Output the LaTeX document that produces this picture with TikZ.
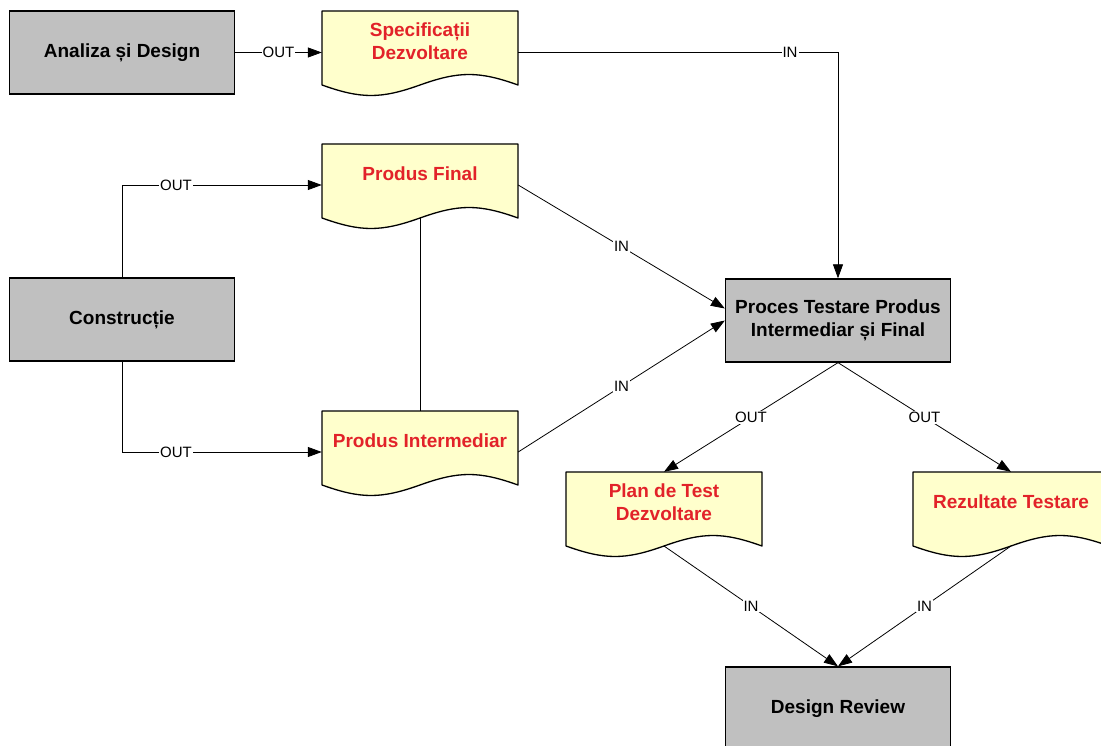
\documentclass[tikz,border=0pt]{standalone}
\usepackage{fontspec}
\setmainfont{Liberation Sans}
\usetikzlibrary{arrows.meta}
\definecolor{boxgray}{RGB}{192,192,192}
\definecolor{docyellow}{RGB}{255,255,204}
\definecolor{docred}{RGB}{226,34,41}
\tikzset{
  procbox/.style={draw=black, line width=1.3pt, fill=boxgray, minimum width=225pt, minimum height=83pt,
    inner sep=2pt, align=center, font=\fontsize{19}{23}\selectfont\bfseries},
  docarea/.style={draw=none, minimum width=196pt, minimum height=74pt, inner sep=0pt},
  doctext/.style={text=docred, align=center, inner sep=1pt, font=\fontsize{19}{23}\selectfont\bfseries},
  docline/.style={draw=black, line width=1.3pt, fill=docyellow, line join=round},
  conn/.style={draw=black, line width=0.8pt, -{Triangle[length=14pt,width=10pt]}},
  plainconn/.style={draw=black, line width=0.8pt},
  lbl/.style={fill=white, inner sep=1pt, font=\fontsize{15}{17}\selectfont},
}
% #1 left x, #2 top y, #3 name, #4 text
\newcommand\mydoc[4]{%
  \begin{scope}[shift={(#1,#2)}]
    \draw[docline] (0,0) -- (196,0) -- (196,74)
      .. controls (157,60) and (137,60) .. (98,74)
      .. controls (59,88) and (39,88) .. (0,74) -- cycle;
    \coordinate (#3-wave) at (98,74);
    \node[docarea] (#3) at (98,37) {};
    \node[doctext] (#3-text) at ([yshift=7pt]#3.center) {#4};
  \end{scope}}
\begin{document}
\begin{tikzpicture}[x=1pt,y=-1pt]
\useasboundingbox (0,0) rectangle (1101,746);
\clip (0,0) rectangle (1101,746);
\fill[white] (0,0) rectangle (1101,746);

% process boxes
\node[procbox] (analiza) at (122,52.5) {Analiza și Design};
\node[procbox] (constr) at (122,319.5) {Construcție};
\node[procbox] (proces) at (838,320.5) {Proces Testare Produs\\Intermediar și Final};
\node[procbox] (review) at (838,708.5) {Design Review};

% documents
\mydoc{322}{11}{spec}{Specificații\\Dezvoltare}
\mydoc{322}{144}{final}{Produs Final}
\mydoc{322}{411}{inter}{Produs Intermediar}
\mydoc{566}{472}{plan}{Plan de Test\\Dezvoltare}
\mydoc{913}{472}{rez}{Rezultate Testare}

% connectors
\draw[conn] (analiza.east) -- node[lbl]{OUT} (spec.west |- analiza.east);
\draw[conn] ([yshift=-4pt]spec.east) -| node[lbl, pos=0.425]{IN} (proces.north);
\draw[conn] (constr.north) |- node[lbl, pos=0.635]{OUT} ([yshift=-4pt]final.west);
\draw[conn] (constr.south) |- node[lbl, pos=0.635]{OUT} ([yshift=-4pt]inter.west);
\draw[plainconn] (final-wave) -- (final-wave |- inter.north);
\draw[conn] ([yshift=-4pt]final.east) -- node[lbl]{IN} ([yshift=12pt]proces.west);
\draw[conn] ([yshift=-4pt]inter.east) -- node[lbl]{IN} (proces.west);
\draw[conn] (proces.south) -- node[lbl]{OUT} (plan.north);
\draw[conn] (proces.south) -- node[lbl]{OUT} (rez.north);
\draw[conn] (plan-wave) -- node[lbl]{IN} (review.north);
\draw[conn] (rez-wave) -- node[lbl]{IN} (review.north);
\end{tikzpicture}
\end{document}
